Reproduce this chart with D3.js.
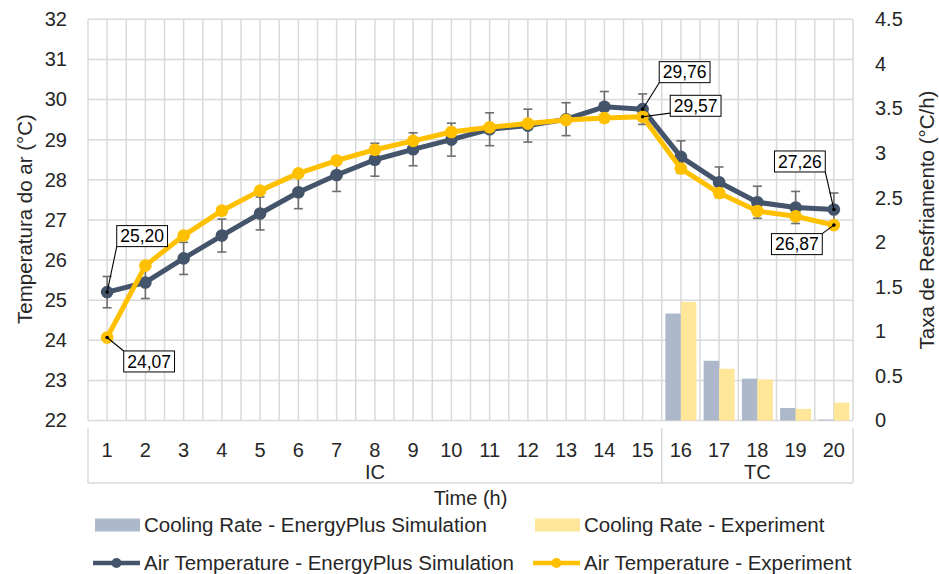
<!DOCTYPE html>
<html>
<head>
<meta charset="utf-8">
<script src="https://cdn.jsdelivr.net/npm/d3@7"></script>
<style>
  body { margin: 0; background: #fff; }
  svg { display: block; font-family: "Liberation Sans", Arial, sans-serif; }
</style>
</head>
<body>
<svg id="chart" width="939" height="574"></svg>
<script>
// ---------------- DATA ----------------
const hours = ["1","2","3","4","5","6","7","8","9","10","11","12","13","14","15","16","17","18","19","20"];
const periodNames = ["IC", "TC"];
const periodHours = [["1","15"], ["16","20"]];

const simTemp = [25.20, 25.44, 26.04, 26.61, 27.16, 27.69, 28.12, 28.50, 28.76, 29.00,
                 29.26, 29.35, 29.51, 29.82, 29.76, 28.57, 27.94, 27.44, 27.31, 27.26];
const expTemp = [24.07, 25.86, 26.61, 27.23, 27.73, 28.16, 28.48, 28.75, 28.97, 29.19,
                 29.31, 29.40, 29.49, 29.54, 29.57, 28.28, 27.67, 27.22, 27.09, 26.87];
const simErr  = [0.39, 0.40, 0.40, 0.41, 0.41, 0.41, 0.41, 0.41, 0.41, 0.41,
                 0.41, 0.41, 0.41, 0.38, 0.38, 0.40, 0.38, 0.40, 0.40, 0.41];

const simRate = [null,null,null,null,null,null,null,null,null,null,null,null,null,null,null, 1.20, 0.67, 0.47, 0.14, 0.01];
const expRate = [null,null,null,null,null,null,null,null,null,null,null,null,null,null,null, 1.33, 0.58, 0.46, 0.13, 0.20];

const tempTicks = [22, 23, 24, 25, 26, 27, 28, 29, 30, 31, 32];
const rateTicks = [0, 0.5, 1, 1.5, 2, 2.5, 3, 3.5, 4, 4.5];

const seriesNames = {
  simRate: "Cooling Rate - EnergyPlus Simulation",
  expRate: "Cooling Rate - Experiment",
  simTemp: "Air Temperature - EnergyPlus Simulation",
  expTemp: "Air Temperature - Experiment"
};

// labelled points: series, index, box-centre offset, leader anchor on box
const pointLabels = [
  { series: "sim", i: 0,  dx: 35,  dy: -56, ax: -1, ay: 1 },
  { series: "exp", i: 0,  dx: 42,  dy: 24,  ax: -1, ay: -1 },
  { series: "sim", i: 14, dx: 42,  dy: -37, ax: -1, ay: 1 },
  { series: "exp", i: 14, dx: 53,  dy: -11, ax: -1, ay: 0.7 },
  { series: "sim", i: 19, dx: -34, dy: -48, ax: 1,  ay: 1 },
  { series: "exp", i: 19, dx: -37, dy: 19,  ax: 1,  ay: -1 }
];

// ---------------- STYLE ----------------
const C = {
  simLine: "#44546A", expLine: "#FFC000",
  simBar: "#ADB9CA", expBar: "#FFE699",
  grid: "#D9D9D9", text: "#262626", err: "#6E6E6E"
};

// ---------------- CHART ----------------
const svg = d3.select("#chart");
const L = 88, R = 853, T = 19.3, B = 420.5;

const x = d3.scaleBand().domain(hours).range([L, R]).padding(0);
const bw = x.bandwidth();
const cx = h => x(h) + bw / 2;
const yT = d3.scaleLinear().domain([22, 32]).range([B, T]);
const yR = d3.scaleLinear().domain([0, 4.5]).range([B, T]);

// gridlines
const grid = svg.append("g").attr("stroke", C.grid).attr("stroke-width", 1.5);
grid.selectAll("line.h").data(tempTicks).join("line")
  .attr("x1", L).attr("x2", R).attr("y1", d => yT(d)).attr("y2", d => yT(d));
const vx = [];
hours.forEach(h => { vx.push(x(h)); vx.push(cx(h)); });
vx.push(R);
grid.selectAll("line.v").data(vx).join("line")
  .attr("x1", d => d).attr("x2", d => d).attr("y1", T).attr("y2", B);

// bars
const groupW = 31;
const xs = d3.scaleBand().domain(["sim", "exp"]).range([0, groupW]).padding(0);
const barData = [];
hours.forEach((h, i) => {
  if (simRate[i] != null) barData.push({ h, k: "sim", v: simRate[i] });
  if (expRate[i] != null) barData.push({ h, k: "exp", v: expRate[i] });
});
svg.append("g").selectAll("rect").data(barData).join("rect")
  .attr("x", d => x(d.h) + (bw - groupW) / 2 + xs(d.k))
  .attr("width", xs.bandwidth())
  .attr("y", d => yR(d.v))
  .attr("height", d => yR(0) - yR(d.v))
  .attr("fill", d => d.k === "sim" ? C.simBar : C.expBar);

// axes
const fontTick = 20;
const axL = svg.append("g").attr("transform", `translate(${L},0)`)
  .call(d3.axisLeft(yT).tickValues(tempTicks).tickSize(0).tickPadding(21));
const axR = svg.append("g").attr("transform", `translate(${R},0)`)
  .call(d3.axisRight(yR).tickValues(rateTicks).tickSize(0).tickPadding(22).tickFormat(d => String(d)));
const axB = svg.append("g").attr("transform", `translate(0,${B})`)
  .call(d3.axisBottom(x).tickSize(0).tickPadding(22));
[axL, axR, axB].forEach(g => {
  g.select(".domain").remove();
  g.selectAll("text").attr("fill", C.text).style("font-size", fontTick + "px")
    .style("font-family", '"Liberation Sans", Arial, sans-serif');
});

// multi-level category box
const boxG = svg.append("g").attr("stroke", C.grid).attr("stroke-width", 1.5);
const yTopBox = 428, yBotBox = 483;
const seps = [L].concat(periodHours.map(p => x(p[1]) + bw));
boxG.selectAll("line.s").data(seps).join("line")
  .attr("x1", d => d).attr("x2", d => d).attr("y1", yTopBox).attr("y2", yBotBox);
boxG.append("line").attr("x1", L).attr("x2", R).attr("y1", yBotBox).attr("y2", yBotBox);

svg.append("g").selectAll("text").data(periodNames).join("text")
  .attr("x", (d, i) => (x(periodHours[i][0]) + x(periodHours[i][1]) + bw) / 2)
  .attr("y", 479)
  .attr("text-anchor", "middle").attr("fill", C.text).style("font-size", fontTick + "px")
  .text(d => d);

// axis titles
svg.append("text").attr("x", (L + R) / 2).attr("y", 505).attr("text-anchor", "middle")
  .attr("fill", C.text).style("font-size", "20px").text("Time (h)");
svg.append("text").attr("transform", "translate(32,219) rotate(-90)").attr("text-anchor", "middle")
  .attr("fill", C.text).style("font-size", "20.5px").text("Temperatura do ar (°C)");
svg.append("text").attr("transform", "translate(934,220) rotate(-90)").attr("text-anchor", "middle")
  .attr("fill", C.text).style("font-size", "20.5px").text("Taxa de Resfriamento (°C/h)");

// simulation line + error bars + markers
const line = d3.line().x((d, i) => cx(hours[i])).y(d => yT(d));
const simG = svg.append("g");
simG.append("path").datum(simTemp).attr("d", line).attr("fill", "none")
  .attr("stroke", C.simLine).attr("stroke-width", 5).attr("stroke-linejoin", "round");
const eb = simG.append("g").attr("stroke", C.err).attr("stroke-width", 1.6);
simTemp.forEach((v, i) => {
  const px = cx(hours[i]);
  const y1 = yT(v + simErr[i]), y2 = yT(v - simErr[i]);
  eb.append("line").attr("x1", px).attr("x2", px).attr("y1", y1).attr("y2", y2);
  eb.append("line").attr("x1", px - 4.5).attr("x2", px + 4.5).attr("y1", y1).attr("y2", y1);
  eb.append("line").attr("x1", px - 4.5).attr("x2", px + 4.5).attr("y1", y2).attr("y2", y2);
});
simG.selectAll("circle").data(simTemp).join("circle")
  .attr("cx", (d, i) => cx(hours[i])).attr("cy", d => yT(d)).attr("r", 6.3).attr("fill", C.simLine);

// experiment line + markers
const expG = svg.append("g");
expG.append("path").datum(expTemp).attr("d", line).attr("fill", "none")
  .attr("stroke", C.expLine).attr("stroke-width", 5).attr("stroke-linejoin", "round");
expG.selectAll("circle").data(expTemp).join("circle")
  .attr("cx", (d, i) => cx(hours[i])).attr("cy", d => yT(d)).attr("r", 6.3).attr("fill", C.expLine);

// data labels with leader lines
const fmt = v => d3.format(".2f")(v).replace(".", ",");
const lblG = svg.append("g");
pointLabels.forEach(p => {
  const v = (p.series === "sim" ? simTemp : expTemp)[p.i];
  const px = cx(hours[p.i]), py = yT(v);
  const bx = px + p.dx, by = py + p.dy;
  const g = lblG.append("g");
  const t = g.append("text").attr("x", bx).attr("y", by).attr("dy", "0.35em")
    .attr("text-anchor", "middle").attr("fill", "#000").style("font-size", "17.5px").text(fmt(v));
  const w = t.node().getComputedTextLength() + 7, h = 21;
  g.insert("rect", "text").attr("x", bx - w / 2).attr("y", by - h / 2).attr("width", w).attr("height", h)
    .attr("fill", "#fff").attr("stroke", "#000").attr("stroke-width", 1);
  g.insert("line", "rect").attr("x1", px).attr("y1", py)
    .attr("x2", bx + p.ax * w / 2).attr("y2", by + p.ay * h / 2)
    .attr("stroke", "#000").attr("stroke-width", 1.1);
  g.append("circle").attr("cx", px).attr("cy", py).attr("r", 1.8).attr("fill", "#000");
});

// legend
const legend = svg.append("g").style("font-size", "20.5px");
const legItems = [
  { key: "simRate", type: "bar", color: C.simBar, x: 95, y: 525 },
  { key: "expRate", type: "bar", color: C.expBar, x: 535, y: 525 },
  { key: "simTemp", type: "line", color: C.simLine, x: 93, y: 563 },
  { key: "expTemp", type: "line", color: C.expLine, x: 533, y: 563 }
];
legItems.forEach(it => {
  const g = legend.append("g");
  if (it.type === "bar") {
    g.append("rect").attr("x", it.x).attr("y", it.y - 6.5).attr("width", 45).attr("height", 13).attr("fill", it.color);
  } else {
    g.append("line").attr("x1", it.x).attr("x2", it.x + 47).attr("y1", it.y).attr("y2", it.y)
      .attr("stroke", it.color).attr("stroke-width", 4.5);
    g.append("circle").attr("cx", it.x + 23.5).attr("cy", it.y).attr("r", 5).attr("fill", it.color);
  }
  g.append("text").attr("x", it.x + (it.type === "bar" ? 49 : 51)).attr("y", it.y).attr("dy", "0.35em")
    .attr("fill", C.text).text(seriesNames[it.key]);
});
</script>
</body>
</html>
